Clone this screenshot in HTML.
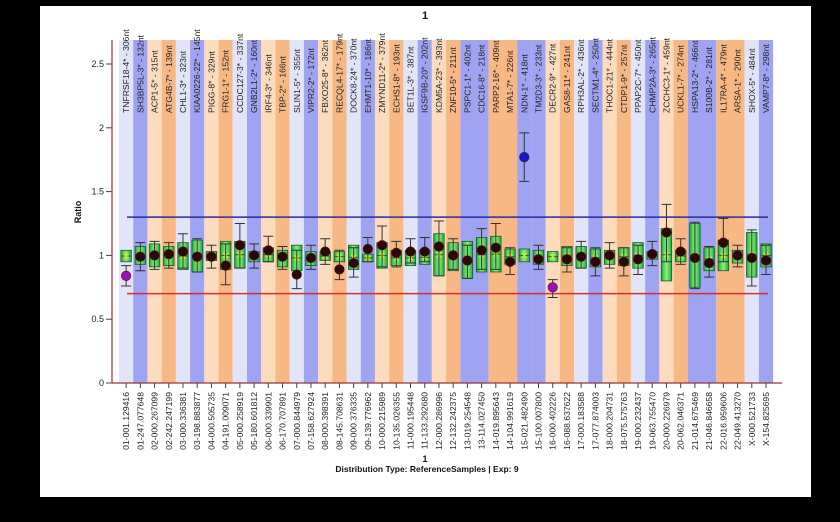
<!DOCTYPE html>
<html><head><meta charset="utf-8"><style>
html,body{margin:0;padding:0;background:#000;width:840px;height:522px;overflow:hidden;font-family:"Liberation Sans",sans-serif}
#panel{position:absolute;left:40px;top:6px;width:771px;height:491px;background:#fff}
svg{position:absolute;left:0;top:0}
</style></head><body>
<div id="panel"></div>
<svg id="chart" width="840" height="522">
<defs>
<linearGradient id="boxg" x1="0" x2="1" y1="0" y2="0">
<stop offset="0" stop-color="#14b03a"/><stop offset="0.5" stop-color="#8ff07a"/><stop offset="1" stop-color="#14b03a"/>
</linearGradient>
</defs>
</svg>
<script>
const genes=["TNFRSF18-4* - 306nt","SH3BP5L-3* - 132nt","ACP1-5* - 315nt","ATG4B-7* - 139nt","CHL1-3* - 323nt","KIAA0226-22* - 145nt","PIGG-8* - 329nt","FRG1-1* - 152nt","CCDC127-3* - 337nt","GNB2L1-2* - 160nt","IRF4-3* - 346nt","TBP-2* - 166nt","SLIN1-5* - 355nt","VIPR2-2* - 172nt","FBXO25-8* - 362nt","RECQL4-17* - 179nt","DOCK8-24* - 370nt","EHMT1-10* - 186nt","ZMYND11-2* - 379nt","ECHS1-8* - 193nt","BET1L-3* - 387nt","IGSF9B-20* - 202nt","KDM5A-23* - 393nt","ZNF10-5* - 211nt","PSPC1-1* - 402nt","CDC16-8* - 218nt","PARP2-16* - 409nt","MTA1-7* - 226nt","NDN-1* - 418nt","TM2D3-3* - 233nt","DECR2-9* - 427nt","GAS8-11* - 241nt","RPH3AL-2* - 436nt","SECTM1-4* - 250nt","THOC1-21* - 444nt","CTDP1-9* - 257nt","PPAP2C-7* - 450nt","CHMP2A-3* - 265nt","ZCCHC3-1* - 459nt","UCKL1-7* - 274nt","HSPA13-2* - 466nt","S100B-2* - 281nt","IL17RA-4* - 479nt","ARSA-1* - 290nt","SHOX-5* - 484nt","VAMP7-8* - 298nt"];
const positions=["01-001.129416","01-247.077648","02-000.267099","02-242.247199","03-000.336381","03-198.883877","04-000.505735","04-191.009071","05-000.258919","05-180.601812","06-000.339901","06-170.707891","07-000.844979","07-158.627924","08-000.398391","08-145.708631","09-000.376335","09-139.776962","10-000.215989","10-135.026355","11-000.195448","11-133.292680","12-000.286996","12-132.242375","13-019.254548","13-114.027450","14-019.895643","14-104.991619","15-021.482490","15-100.007800","16-000.402226","16-088.637622","17-000.183588","17-077.874003","18-000.204731","18-075.575763","19-000.232437","19-063.755470","20-000.226979","20-062.046371","21-014.675469","21-046.846658","22-016.959606","22-049.413270","X-000.521733","X-154.825695"];
const bandType=["L","B","P","O","L","B","P","O","L","B","P","O","L","B","P","O","L","B","P","O","L","B","P","O","B","B","O","O","B","B","P","O","L","B","P","O","L","B","P","O","B","B","O","O","L","B"];
const boxHigh=[1.04,1.07,1.09,1.07,1.10,1.12,1.03,1.11,1.11,1.03,1.06,1.04,1.08,1.03,1.03,1.03,1.08,1.01,1.10,1.04,1.04,1.04,1.17,1.10,1.11,1.14,1.15,1.05,1.05,1.04,1.03,1.07,1.07,1.05,1.04,1.06,1.10,1.03,1.21,1.04,1.25,1.06,1.12,1.04,1.18,1.09];
const boxLow=[0.95,0.93,0.91,0.92,0.89,0.87,0.96,0.89,0.90,0.95,0.95,0.91,0.88,0.92,0.96,0.95,0.89,0.95,0.90,0.92,0.92,0.93,0.84,0.88,0.82,0.87,0.87,0.93,0.95,0.93,0.95,0.92,0.90,0.91,0.93,0.92,0.90,0.97,0.80,0.95,0.75,0.88,0.88,0.94,0.83,0.91];
const pointVal=[0.84,0.99,1.00,1.01,1.03,0.99,0.99,0.92,1.08,1.00,1.04,0.99,0.85,0.98,1.03,0.89,0.94,1.05,1.08,1.02,1.03,1.03,1.07,1.00,0.96,1.04,1.06,0.95,1.77,0.97,0.75,0.97,0.99,0.95,1.00,0.95,0.97,1.01,1.18,1.03,0.98,0.94,1.10,1.00,0.98,0.96];
const errHigh=[0.92,1.10,1.11,1.10,1.17,1.13,1.08,1.09,1.25,1.09,1.15,1.07,1.04,1.08,1.13,1.04,1.06,1.14,1.23,1.11,1.13,1.14,1.27,1.13,1.08,1.21,1.25,1.06,1.96,1.08,0.81,1.06,1.11,1.06,1.10,1.06,1.08,1.11,1.40,1.13,1.26,1.07,1.29,1.08,1.20,1.08];
const errLow=[0.76,0.88,0.89,0.90,0.90,0.87,0.90,0.77,0.90,0.90,0.95,0.89,0.74,0.89,0.93,0.81,0.83,0.95,0.91,0.91,0.94,0.95,0.84,0.89,0.82,0.89,0.89,0.85,1.58,0.89,0.67,0.87,0.90,0.84,0.90,0.84,0.85,0.92,0.95,0.93,0.74,0.83,0.95,0.91,0.76,0.85];
const pointKind=["purple","dark","dark","dark","dark","dark","dark","dark","dark","dark","dark","dark","dark","dark","dark","dark","dark","dark","dark","dark","dark","dark","dark","dark","dark","dark","dark","dark","blue","dark","purple","dark","dark","dark","dark","dark","dark","dark","dark","dark","dark","dark","dark","dark","dark","dark"];
const yTicks=[0,0.5,1,1.5,2,2.5];
const yTickLabels=["0","0.5","1","1.5","2","2.5"];
const upperLimit=1.3, lowerLimit=0.7;

const NS="http://www.w3.org/2000/svg";
const svg=document.getElementById('chart');
const x0=119, colW=14.22, yTop=40;
const xAt=i=>x0+colW*i;
const xc=i=>x0+colW*(i+0.5);
const yAt=v=>383-127.6*v;
function mk(tag,attrs,parent){const e=document.createElementNS(NS,tag);for(const k in attrs)e.setAttribute(k,attrs[k]);(parent||svg).appendChild(e);return e;}
const bandColors={L:"#e2e5fa",B:"#9ea3f2",P:"#fddcbd",O:"#f8b884"};

genes.forEach((g,i)=>{
  const r=mk('rect',{x:xAt(i),y:yTop,width:colW,height:yAt(0)-yTop,fill:bandColors[bandType[i]]});
  
  
  const t=mk('text',{x:0,y:0,transform:`translate(${xc(i)+3},113) rotate(-90)`,'font-size':'8.6',fill:'#222'});
  t.textContent=g;
  
  
  const p=mk('text',{x:0,y:0,transform:`translate(${xc(i)+3},392) rotate(-90)`,'font-size':'8.6',fill:'#222','text-anchor':'end'});
  p.textContent=positions[i];
  
  
  const tk=mk('line',{x1:xc(i),x2:xc(i),y1:383,y2:388,stroke:'#444','stroke-width':1});
  
  
});

// limit lines
const ul=mk('line',{x1:127,x2:768,y1:yAt(upperLimit),y2:yAt(upperLimit),stroke:'#2a2a9a','stroke-width':1.5});


const ll=mk('line',{x1:127,x2:768,y1:yAt(lowerLimit),y2:yAt(lowerLimit),stroke:'#d03030','stroke-width':1.5});



genes.forEach((g,i)=>{
  const cx=xc(i), bw=10.5;
  const b=mk('rect',{x:cx-bw/2,y:yAt(boxHigh[i]),width:bw,height:yAt(boxLow[i])-yAt(boxHigh[i]),fill:'url(#boxg)',stroke:'#1d5a2a','stroke-width':0.8});
  
  
  const m=(boxHigh[i]+boxLow[i])/2;
  const md=mk('line',{x1:cx-bw/2,x2:cx+bw/2,y1:yAt(m),y2:yAt(m),stroke:'#1d5a2a','stroke-width':0.8});
  
  
  const cr=mk('path',{d:`M${cx-2.5} ${yAt(m)-2.5}L${cx+2.5} ${yAt(m)+2.5}M${cx+2.5} ${yAt(m)-2.5}L${cx-2.5} ${yAt(m)+2.5}`,stroke:'#f0e020','stroke-width':1.2});
  
  
  const ec='#333';
  const e=mk('path',{d:`M${cx} ${yAt(errHigh[i])}V${yAt(errLow[i])}M${cx-5} ${yAt(errHigh[i])}H${cx+5}M${cx-5} ${yAt(errLow[i])}H${cx+5}`,stroke:ec,'stroke-width':1,fill:'none'});
  
  
  const fills={dark:'#2a0808',purple:'#9a10c0',blue:'#1818c8'};
  const d=mk('circle',{cx:cx,cy:yAt(pointVal[i]),r:4.8,fill:fills[pointKind[i]],stroke:'#5a1010','stroke-width':0.6});
  
  
});

// axes
const ya=mk('line',{x1:112,x2:112,y1:yTop,y2:383.5,stroke:'#8a3a3a','stroke-width':1.2});


const xa=mk('line',{x1:112,x2:782,y1:383,y2:383,stroke:'#8a3a3a','stroke-width':1.2});


yTicks.forEach((v,k)=>{
  const l=mk('line',{x1:106,x2:112,y1:yAt(v),y2:yAt(v),stroke:'#444'});
  
  
  const t=mk('text',{x:104,y:yAt(v)+3,'font-size':'9','text-anchor':'end',fill:'#222'});
  t.textContent=yTickLabels[k];
  
  
});
function label(txt,x,y,size,name,extra){const t=mk('text',Object.assign({x:x,y:y,'font-size':size,'font-weight':'bold','text-anchor':'middle',fill:'#111'},extra||{}));t.textContent=txt;}
label('1',425,19,11,'chart-title');
label('Ratio',0,0,9,'y-axis-title',{transform:'translate(81,212) rotate(-90)'});
label('1',425,462,9,'x-axis-title');
label('Distribution Type: ReferenceSamples | Exp: 9',427,472,8.5,'distribution-caption');
</script>
</body></html>
